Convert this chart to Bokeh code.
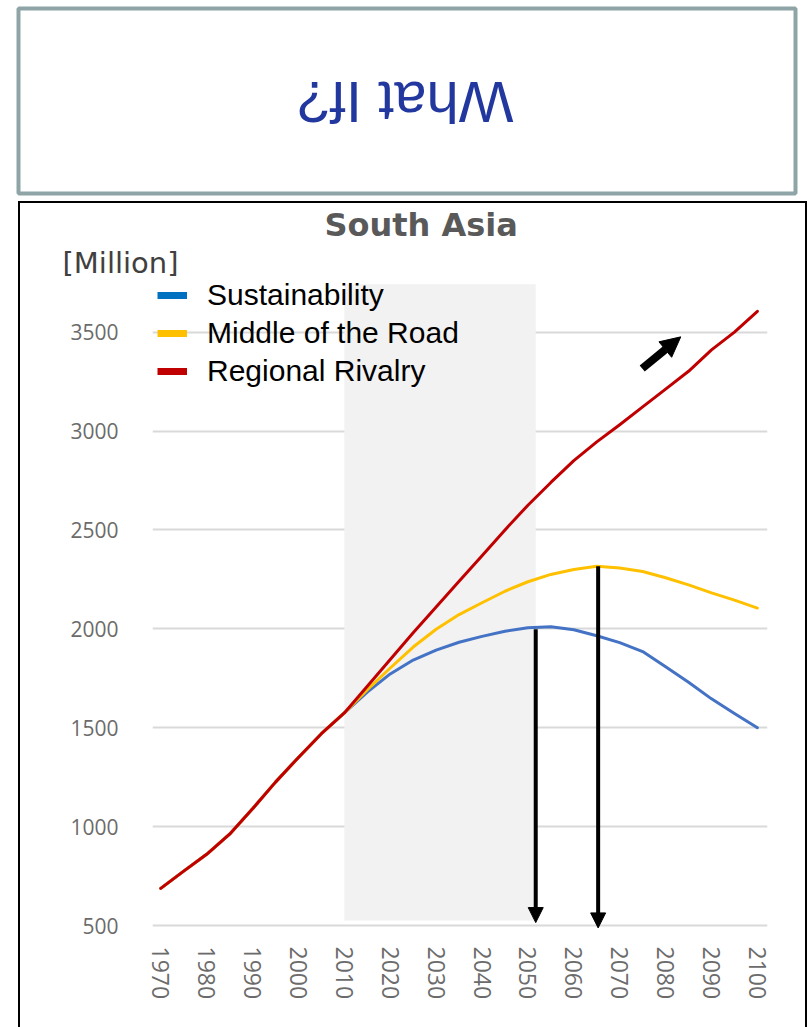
from math import pi

from bokeh.core.properties import value
from bokeh.embed import file_html
from bokeh.layouts import column
from bokeh.models import (Arrow, BoxAnnotation, ColumnDataSource, FixedTicker,
                          Legend, LegendItem, NormalHead, Range1d, Title)
from bokeh.plotting import figure
from bokeh.resources import INLINE

# ---------------- data ----------------
years = [1970, 1975, 1980, 1985, 1990, 1995, 2000, 2005, 2010, 2015, 2020,
         2025, 2030, 2035, 2040, 2045, 2050, 2055, 2060, 2065, 2070, 2075,
         2080, 2085, 2090, 2095, 2100]

history = [688, 775, 860, 962, 1090, 1225, 1350, 1470]  # 1970-2005, shared

sustainability = history + [1575, 1680, 1772, 1842, 1892, 1932, 1962, 1988,
                            2005, 2010, 1995, 1965, 1930, 1885, 1808, 1730,
                            1646, 1572, 1500]
middle_of_the_road = history + [1575, 1692, 1802, 1908, 1998, 2072, 2132,
                                2190, 2238, 2275, 2300, 2316, 2308, 2290,
                                2258, 2222, 2182, 2145, 2105]
regional_rivalry = history + [1575, 1710, 1845, 1980, 2110, 2240, 2370, 2500,
                              2625, 2740, 2850, 2945, 3032, 3122, 3212, 3302,
                              3410, 3500, 3605]

series_names = ["Sustainability", "Middle of the Road", "Regional Rivalry"]
series_colors = ["#4472c4", "#ffc000", "#c00000"]
legend_colors = ["#0070c0", "#ffc000", "#c00000"]

y_ticks = [500, 1000, 1500, 2000, 2500, 3000, 3500]
x_ticks = [1970, 1980, 1990, 2000, 2010, 2020, 2030, 2040, 2050, 2060, 2070,
           2080, 2090, 2100]

# highlighted period and annotation arrows (decorations)
shade_years = [2010, 2051.7]
shade_values = [525, 3742]
peak_arrows = [(2051.7, 1998, 515), (2065.3, 2316, 488)]  # x, from, to
trend_arrow = [(2074.9, 3316), (2083.3, 3476)]

# ---------------- top banner: "What If?" ----------------
top = figure(width=809, height=200, output_backend="svg", toolbar_location=None,
             x_range=Range1d(0, 809), y_range=Range1d(200, 0),
             x_axis_location=None, y_axis_location=None, title=None,
             min_border=0, min_border_left=0, min_border_right=0,
             min_border_top=0, min_border_bottom=0, frame_align=False,
             background_fill_color="white", border_fill_color="white")
top.outline_line_color = None
top.grid.visible = False
top.quad(left=[18], right=[795], top=[8], bottom=[193], fill_color="white",
         line_color="#8ea4a6", line_width=4)
top.text(x=[405], y=[102], text=["What If?"], angle=pi, text_align="center",
         text_baseline="middle", text_font=value("Liberation Sans"),
         text_font_size="58px", text_color="#22389e")

# ---------------- chart ----------------
p = figure(width=785, height=824, output_backend="svg", toolbar_location=None,
           title=None, x_range=Range1d(1968.2, 2102.2),
           y_range=Range1d(480, 3766),
           min_border_left=132, min_border_right=38, min_border_top=70,
           min_border_bottom=98, frame_align=False,
           margin=(3, 0, 0, 20),
           background_fill_color="white", border_fill_color="white")
p.styles = {"outline": "2.5px solid black"}
p.outline_line_color = None
p.xgrid.grid_line_color = None
p.ygrid.grid_line_color = "#d9d9d9"
p.ygrid.grid_line_width = 2
p.ygrid.ticker = FixedTicker(ticks=y_ticks)

for ax in (p.xaxis[0], p.yaxis[0]):
    ax.axis_line_color = None
    ax.major_tick_line_color = None
    ax.minor_tick_line_color = None
    ax.major_tick_out = 0
    ax.major_tick_in = 0
    ax.major_label_text_font = "Open Sans"
    ax.major_label_text_color = "#6b6b6b"

p.yaxis.major_label_text_font_size = "21px"
p.xaxis.major_label_text_font_size = "23px"
p.yaxis.ticker = FixedTicker(ticks=y_ticks)
p.yaxis.major_label_standoff = 34
p.xaxis.ticker = FixedTicker(ticks=x_ticks)
p.xaxis.major_label_orientation = -pi / 2
p.xaxis.major_label_standoff = 17

# titles above the frame (first added sits closest to the frame)
p.add_layout(Title(text="[Million]", align="left", offset=-90, standoff=0,
                   text_font="DejaVu Sans", text_font_style="normal",
                   text_font_size="29px", text_color="#404040"), "above")
p.add_layout(Title(text="South Asia", align="left", offset=172, standoff=0,
                   text_font="DejaVu Sans", text_font_style="bold",
                   text_font_size="32px", text_color="#595959"), "above")

# shaded period
p.add_layout(BoxAnnotation(left=shade_years[0], right=shade_years[1],
                           bottom=shade_values[0], top=shade_values[1],
                           fill_color="#f2f2f2", fill_alpha=1.0,
                           line_color=None, level="underlay"))

src = ColumnDataSource(dict(year=years, s1=sustainability,
                            s2=middle_of_the_road, s3=regional_rivalry))
for col, color in zip(["s1", "s2", "s3"], series_colors):
    p.line("year", col, source=src, line_color=color, line_width=3,
           line_join="round", line_cap="round")

# legend proxies (thick bars); a single point draws nothing in the plot
proxy = ColumnDataSource(dict(x=[years[0]], y=[history[0]]))
items = []
for name, color in zip(series_names, legend_colors):
    r = p.line("x", "y", source=proxy, line_color=color, line_width=7,
               line_cap="butt")
    items.append(LegendItem(label=name, renderers=[r]))
legend = Legend(items=items, location=(5, 540), padding=0, margin=0,
                spacing=2, label_height=36, glyph_height=10, glyph_width=30,
                label_standoff=20, border_line_color=None,
                background_fill_alpha=0, label_text_font="Liberation Sans",
                label_text_font_size="30px", label_text_color="black")
p.add_layout(legend)

# arrows
for xa, y0, y1 in peak_arrows:
    p.add_layout(Arrow(x_start=xa, y_start=y0, x_end=xa, y_end=y1,
                       line_width=4, line_color="black",
                       end=NormalHead(size=15, fill_color="black",
                                      line_color="black", line_width=1)))
p.add_layout(Arrow(x_start=trend_arrow[0][0], y_start=trend_arrow[0][1],
                   x_end=trend_arrow[1][0], y_end=trend_arrow[1][1],
                   line_width=8, line_color="black",
                   end=NormalHead(size=20, fill_color="black",
                                  line_color="black", line_width=1)))

layout = column(top, p, spacing=0)
open("out.html", "w").write(file_html(layout, INLINE))
